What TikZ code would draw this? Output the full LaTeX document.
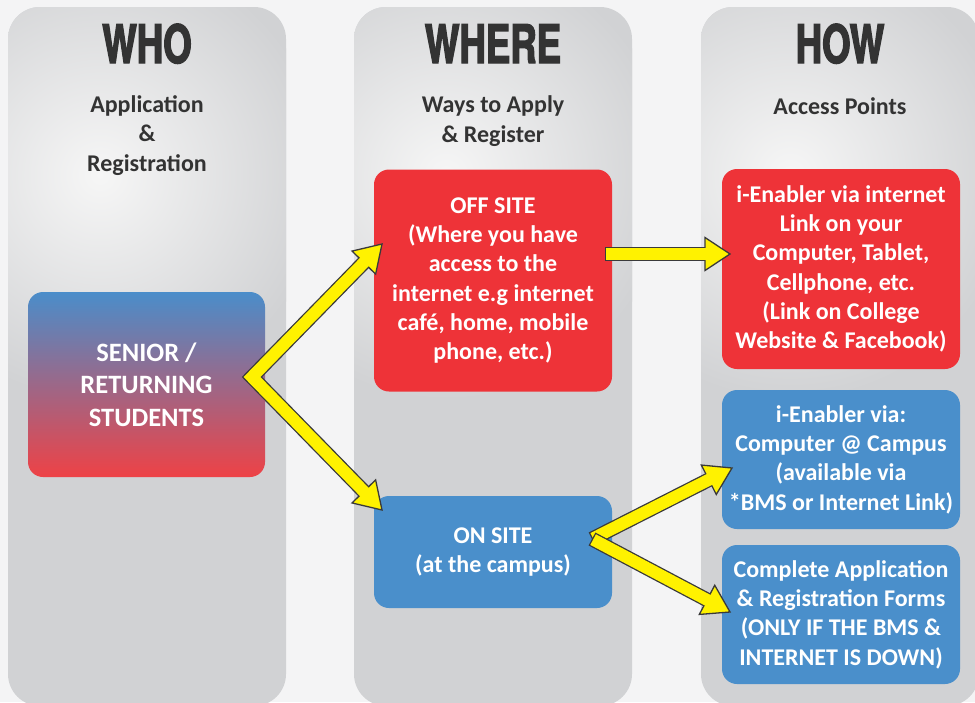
\documentclass[tikz,border=0pt]{standalone}
\usepackage{fontspec}
\setmainfont{Carlito}
\newfontfamily\headfont{TeX Gyre Heros}[FakeStretch=0.69,FakeBold=2.5]
\usetikzlibrary{calc}
\definecolor{colgray}{HTML}{D1D2D4}
\definecolor{colhi}{HTML}{F6F6F6}
\definecolor{bggray}{HTML}{F4F4F5}
\definecolor{boxred}{HTML}{EE3338}
\definecolor{boxblue}{HTML}{4A8FCB}
\definecolor{senblue}{HTML}{4A8DCA}
\definecolor{senred}{HTML}{EE4246}
\definecolor{headgray}{HTML}{333333}
\definecolor{arrowyellow}{HTML}{FFF200}
\definecolor{edgegray}{HTML}{3A3A3A}

\begin{document}
\begin{tikzpicture}[x=1pt, y=-1pt,
	heading/.style={inner sep=0pt, text=headgray, font=\headfont\bfseries\fontsize{53}{53}\selectfont},
	subtitle/.style={inner sep=0pt, align=center, text=headgray, font=\bfseries\fontsize{24}{29.4}\selectfont},
	infobox/.style={rounded corners=15pt, inner sep=0pt, align=center, text=white, minimum width=238pt, font=\bfseries\fontsize{24}{29.3}\selectfont},
	redbox/.style={infobox, fill=boxred},
	bluebox/.style={infobox, fill=boxblue},
	senbox/.style={rounded corners=15pt, top color=senblue, bottom color=senred, minimum width=237pt, minimum height=185pt, align=center, text=white, font=\bfseries\fontsize{26.5}{32.5}\selectfont},
	shaftout/.style={draw=edgegray, line width=14.6pt, line join=miter},
	shaftin/.style={draw=arrowyellow, line width=12pt, line join=miter},
	headtip/.style={fill=arrowyellow, draw=edgegray, line width=1.3pt, line join=miter}]
	\useasboundingbox (0,0) rectangle (975,702);
	\fill[bggray] (0,0) rectangle (975,702);

	% the three columns
	\fill[colgray, rounded corners=32pt] (8,7) rectangle (286,706);
	\begin{scope}
		\clip[rounded corners=32pt] (8,7) rectangle (286,706);
		\shade[inner color=colhi, outer color=colgray] (100,175) circle (225pt);
	\end{scope}
	\fill[colgray, rounded corners=32pt] (354,7) rectangle (632,706);
	\begin{scope}
		\clip[rounded corners=32pt] (354,7) rectangle (632,706);
		\shade[inner color=colhi, outer color=colgray] (446,175) circle (225pt);
	\end{scope}
	\fill[colgray, rounded corners=32pt] (701,7) rectangle (979,706);
	\begin{scope}
		\clip[rounded corners=32pt] (701,7) rectangle (979,706);
		\shade[inner color=colhi, outer color=colgray] (790,175) circle (225pt);
	\end{scope}

	% headings
	\node[heading, anchor=base] (who) at (147,63) {WHO};
	\node[heading, anchor=base] (where) at (493,63) {WHERE};
	\node[heading, anchor=base] (how) at (840,63) {HOW};
	\node[subtitle] (whosub) at (147,135.5) {Application\\\&\\Registration};
	\node[subtitle] (wheresub) at (493,121) {Ways to Apply\\\& Register};
	\node[subtitle] (howsub) at (840,106) {Access Points};

	% boxes
	\node[senbox] (senior) at (146.5,384.5) {SENIOR /\\RETURNING\\STUDENTS};
	\node[redbox, minimum height=222pt] (offsite) at (493,280.5) {OFF SITE\\(Where you have\\access to the\\internet e.g internet\\café, home, mobile\\phone, etc.)};
	\node[bluebox, minimum height=112pt] (onsite) at (493,552) {ON SITE\\(at the campus)};
	\node[redbox, minimum height=200pt] (link) at (841,269) {i-Enabler via internet\\Link on your\\Computer, Tablet,\\Cellphone, etc.\\(Link on College\\Website \& Facebook)};
	\node[bluebox, minimum height=139pt] (campus) at (841,459.5) {i-Enabler via:\\Computer @ Campus\\(available via\\*BMS or Internet Link)};
	\node[bluebox, minimum height=139pt] (forms) at (841,614.5) {Complete Application\\\& Registration Forms\\(ONLY IF THE BMS \&\\INTERNET IS DOWN)};

	% chevron from the students
	\coordinate (fork) at (252,377);
	\coordinate (offtip) at (382,244);
	\coordinate (ontip) at (382,510);
	\coordinate (offbase) at ($(offtip)!26pt!(fork)$);
	\coordinate (onbase) at ($(ontip)!26pt!(fork)$);
	\draw[shaftout] (offbase) -- (fork) -- (onbase);
	\filldraw[headtip] (offtip) -- ($(offbase)!16.5pt!90:(offtip)$) -- ($(offbase)!16.5pt!-90:(offtip)$) -- cycle;
	\filldraw[headtip] (ontip) -- ($(onbase)!16.5pt!90:(ontip)$) -- ($(onbase)!16.5pt!-90:(ontip)$) -- cycle;
	\draw[shaftin] ($(offtip)!23pt!(fork)$) -- (fork) -- ($(ontip)!23pt!(fork)$);

	% off site to the internet link
	\coordinate (offout) at (605,254);
	\coordinate (linktip) at (730,254);
	\coordinate (linkbase) at ($(linktip)!25pt!(offout)$);
	\draw[shaftout] (offout) -- (linkbase);
	\filldraw[headtip] (linktip) -- ($(linkbase)!16.5pt!90:(linktip)$) -- ($(linkbase)!16.5pt!-90:(linktip)$) -- cycle;
	\draw[shaftin] ($(offout)!1.3pt!(linktip)$) -- ($(linktip)!22pt!(offout)$);

	% on site to the campus and the forms
	\coordinate (onout) at (592,539);
	\coordinate (campustip) at (732,468);
	\coordinate (formtip) at (730,612);
	\coordinate (campusbase) at ($(campustip)!26pt!(onout)$);
	\coordinate (formbase) at ($(formtip)!26pt!(onout)$);
	\draw[shaftout] (onout) -- (campusbase);
	\filldraw[headtip] (campustip) -- ($(campusbase)!16.5pt!90:(campustip)$) -- ($(campusbase)!16.5pt!-90:(campustip)$) -- cycle;
	\draw[shaftin] ($(onout)!1.3pt!(campustip)$) -- ($(campustip)!23pt!(onout)$);
	\draw[shaftout] (onout) -- (formbase);
	\filldraw[headtip] (formtip) -- ($(formbase)!16.5pt!90:(formtip)$) -- ($(formbase)!16.5pt!-90:(formtip)$) -- cycle;
	\draw[shaftin] ($(onout)!1.3pt!(formtip)$) -- ($(formtip)!23pt!(onout)$);
\end{tikzpicture}
\end{document}
